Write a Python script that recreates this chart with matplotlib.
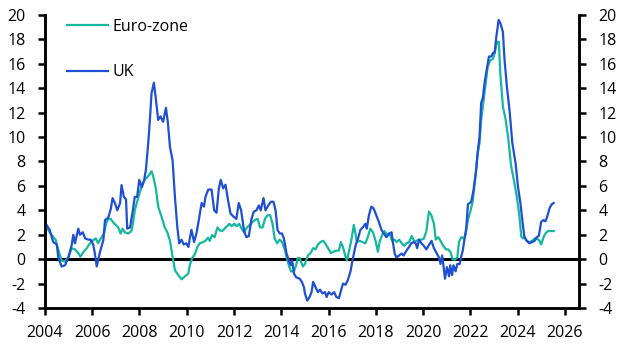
import matplotlib
matplotlib.use("Agg")
import matplotlib.pyplot as plt

plt.rcParams['font.family'] = ['Open Sans', 'DejaVu Sans']
plt.rcParams['axes.unicode_minus'] = False

# food inflation, % y/y
uk_dates = [2004.0, 2004.2, 2004.35, 2004.5, 2004.56, 2004.7, 2004.85, 2005.0, 2005.13, 2005.2,
            2005.27, 2005.41, 2005.48, 2005.6, 2005.7, 2005.83, 2005.93, 2006.04, 2006.1, 2006.19,
            2006.33, 2006.47, 2006.54, 2006.68, 2006.79, 2006.86, 2006.96, 2007.06, 2007.18, 2007.24,
            2007.34, 2007.43, 2007.48, 2007.6, 2007.71, 2007.8, 2007.9, 2007.99, 2008.1, 2008.2,
            2008.27, 2008.37, 2008.44, 2008.51, 2008.61, 2008.7, 2008.79, 2008.89, 2009.0, 2009.12,
            2009.2, 2009.29, 2009.4, 2009.5, 2009.6, 2009.68, 2009.78, 2009.87, 2009.98, 2010.07,
            2010.13, 2010.2, 2010.31, 2010.41, 2010.51, 2010.63, 2010.73, 2010.79, 2010.91, 2011.05,
            2011.16, 2011.26, 2011.36, 2011.44, 2011.54, 2011.64, 2011.75, 2011.85, 2011.97, 2012.1,
            2012.2, 2012.3, 2012.43, 2012.53, 2012.63, 2012.74, 2012.84, 2012.95, 2013.05, 2013.13,
            2013.25, 2013.33, 2013.45, 2013.56, 2013.67, 2013.76, 2013.84, 2013.94, 2014.03, 2014.11,
            2014.22, 2014.32, 2014.4, 2014.46, 2014.54, 2014.64, 2014.78, 2014.88, 2014.96, 2015.0,
            2015.1, 2015.2, 2015.28, 2015.35, 2015.45, 2015.55, 2015.64, 2015.74, 2015.85, 2015.92,
            2016.01, 2016.13, 2016.24, 2016.33, 2016.44, 2016.54, 2016.61, 2016.72, 2016.82, 2016.93,
            2017.03, 2017.15, 2017.25, 2017.35, 2017.45, 2017.56, 2017.62, 2017.71, 2017.81, 2017.91,
            2018.02, 2018.14, 2018.24, 2018.34, 2018.45, 2018.57, 2018.67, 2018.73, 2018.8, 2018.87,
            2018.99, 2019.09, 2019.18, 2019.3, 2019.41, 2019.5, 2019.6, 2019.69, 2019.75, 2019.83,
            2019.93, 2020.03, 2020.14, 2020.26, 2020.36, 2020.46, 2020.56, 2020.67, 2020.74, 2020.81,
            2020.87, 2020.93, 2021.01, 2021.1, 2021.15, 2021.23, 2021.29, 2021.38, 2021.45, 2021.55,
            2021.61, 2021.68, 2021.76, 2021.83, 2021.9, 2022.04, 2022.13, 2022.25, 2022.32, 2022.39,
            2022.46, 2022.53, 2022.6, 2022.7, 2022.79, 2022.89, 2022.96, 2023.03, 2023.1, 2023.2,
            2023.28, 2023.38, 2023.45, 2023.55, 2023.66, 2023.78, 2023.92, 2024.02, 2024.12, 2024.22,
            2024.29, 2024.39, 2024.5, 2024.62, 2024.72, 2024.81, 2024.9, 2025.0, 2025.1, 2025.18,
            2025.24, 2025.36, 2025.45, 2025.53]
uk_vals = [3.0, 2.4, 1.4, 1.2, 0.2, -0.6, -0.5, 0.2, 1.15, 2.0,
           1.3, 2.5, 2.0, 2.2, 1.7, 1.6, 1.6, 1.2, 0.6, -0.6,
           0.6, 1.56, 3.2, 3.4, 4.15, 5.0, 4.6, 4.0, 4.6, 6.07,
           5.1, 4.9, 2.5, 2.6, 3.9, 5.1, 5.1, 6.5, 5.9, 6.5,
           7.3, 9.5, 11.4, 13.6, 14.45, 13.0, 11.4, 11.7, 11.25, 12.4,
           11.2, 9.2, 8.1, 5.1, 2.65, 1.3, 1.6, 1.2, 1.3, 1.0,
           1.7, 2.4, 1.4, 2.1, 3.2, 4.6, 4.3, 5.1, 5.7, 5.7,
           4.0, 3.8, 5.8, 6.5, 5.8, 6.1, 4.8, 3.75, 3.5, 3.3,
           4.6, 4.0, 2.25, 1.8, 1.9, 3.3, 3.9, 4.0, 4.4, 4.0,
           5.0, 4.0, 4.4, 4.7, 4.7, 4.0, 2.4, 2.1, 2.1, 1.7,
           0.5, -0.1, -0.5, -0.1, -1.2, -1.5, -1.6, -1.9, -2.3, -2.8,
           -3.4, -3.1, -2.7, -1.86, -2.3, -2.7, -2.5, -2.8, -2.7, -3.1,
           -2.7, -2.9, -2.7, -3.1, -3.2, -2.5, -2.0, -2.1, -1.7, -1.0,
           0.05, 1.15, 1.7, 2.4, 2.6, 2.9, 2.5, 3.6, 4.3, 4.15,
           3.6, 3.0, 2.4, 2.1, 1.8, 2.1, 2.2, 1.3, 0.46, 0.15,
           0.3, 0.46, 0.3, 0.7, 1.0, 1.3, 1.4, 1.3, 0.9, 1.6,
           1.3, 1.1, 0.8, 1.2, 1.5, 0.9, 0.55, 0.15, -0.4, 0.3,
           -0.65, -1.6, -0.65, -1.4, -0.5, -1.3, -0.5, -1.0, -0.4, -0.4,
           0.15, 0.7, 1.7, 2.6, 4.5, 4.7, 5.6, 7.3, 8.9, 10.0,
           12.8, 13.2, 14.4, 15.6, 16.6, 16.6, 16.9, 16.9, 18.2, 19.6,
           19.3, 18.6, 16.3, 14.1, 12.2, 9.5, 7.8, 5.9, 4.6, 2.9,
           1.8, 1.5, 1.3, 1.4, 1.5, 1.8, 1.9, 3.06, 3.2, 3.1,
           3.4, 4.2, 4.5, 4.6]

ez_dates = [2004.0, 2004.2, 2004.35, 2004.45, 2004.56, 2004.7, 2004.85, 2005.0, 2005.13, 2005.27,
            2005.41, 2005.5, 2005.63, 2005.77, 2005.9, 2006.04, 2006.15, 2006.25, 2006.36, 2006.5,
            2006.6, 2006.68, 2006.78, 2006.89, 2007.0, 2007.1, 2007.2, 2007.28, 2007.38, 2007.52,
            2007.66, 2007.73, 2007.8, 2007.94, 2008.08, 2008.22, 2008.37, 2008.51, 2008.58, 2008.7,
            2008.79, 2008.93, 2009.07, 2009.18, 2009.29, 2009.4, 2009.5, 2009.64, 2009.78, 2009.93,
            2010.06, 2010.13, 2010.23, 2010.34, 2010.45, 2010.55, 2010.69, 2010.79, 2010.9, 2010.97,
            2011.07, 2011.18, 2011.3, 2011.4, 2011.5, 2011.6, 2011.71, 2011.8, 2011.9, 2012.01,
            2012.12, 2012.22, 2012.32, 2012.43, 2012.55, 2012.66, 2012.79, 2012.88, 2013.0, 2013.1,
            2013.21, 2013.31, 2013.42, 2013.53, 2013.63, 2013.72, 2013.83, 2013.93, 2014.03, 2014.14,
            2014.25, 2014.35, 2014.42, 2014.54, 2014.64, 2014.7, 2014.78, 2014.85, 2014.92, 2015.0,
            2015.13, 2015.24, 2015.35, 2015.45, 2015.55, 2015.66, 2015.77, 2015.86, 2015.98, 2016.1,
            2016.2, 2016.33, 2016.44, 2016.52, 2016.61, 2016.72, 2016.78, 2016.86, 2016.96, 2017.07,
            2017.15, 2017.2, 2017.32, 2017.43, 2017.56, 2017.66, 2017.77, 2017.88, 2017.99, 2018.09,
            2018.16, 2018.27, 2018.37, 2018.47, 2018.58, 2018.69, 2018.79, 2018.89, 2018.99, 2019.1,
            2019.2, 2019.3, 2019.41, 2019.52, 2019.62, 2019.72, 2019.83, 2019.95, 2020.04, 2020.14,
            2020.25, 2020.35, 2020.46, 2020.54, 2020.64, 2020.74, 2020.85, 2020.97, 2021.07, 2021.17,
            2021.25, 2021.35, 2021.45, 2021.52, 2021.62, 2021.72, 2021.8, 2021.9, 2022.0, 2022.1,
            2022.21, 2022.3, 2022.39, 2022.46, 2022.6, 2022.74, 2022.85, 2022.96, 2023.03, 2023.13,
            2023.21, 2023.27, 2023.38, 2023.5, 2023.6, 2023.73, 2023.87, 2023.97, 2024.08, 2024.16,
            2024.22, 2024.29, 2024.39, 2024.5, 2024.62, 2024.72, 2024.81, 2024.93, 2025.0, 2025.1,
            2025.18, 2025.28, 2025.42, 2025.53]
ez_vals = [2.8, 2.2, 1.8, 1.6, 0.8, -0.1, -0.2, 0.2, 0.9, 0.8,
           0.5, 0.2, 0.6, 0.9, 1.3, 1.56, 1.7, 1.3, 1.7, 2.1,
           3.0, 3.3, 3.3, 3.0, 2.8, 2.6, 2.1, 2.5, 2.2, 2.1,
           2.3, 3.0, 4.0, 5.0, 5.9, 6.5, 6.8, 7.2, 6.8, 5.7,
           4.3, 3.5, 2.6, 2.2, 1.5, 0.2, -0.9, -1.3, -1.65, -1.4,
           -1.2, -0.5, 0.1, 0.4, 1.0, 1.3, 1.4, 1.5, 1.75, 1.5,
           1.97, 1.8, 2.6, 2.35, 2.3, 2.5, 2.7, 2.9, 2.7, 2.9,
           2.7, 2.9, 2.5, 2.2, 2.6, 2.8, 3.05, 3.2, 3.3, 2.6,
           2.6, 3.3, 3.6, 3.6, 2.9, 1.7, 1.3, 1.6, 1.4, 0.86,
           0.0, -0.7, -1.0, -1.0, -0.4, 0.1, 0.1, -0.3, -0.6, -0.4,
           0.3, 0.5, 0.9, 0.8, 1.2, 1.4, 1.5, 1.3, 0.9, 0.5,
           0.6, 0.7, 0.7, 1.4, 1.0, 0.2, -0.1, 0.6, 1.5, 2.8,
           1.97, 1.4, 1.5, 1.4, 1.3, 1.8, 2.5, 2.2, 1.5, 0.6,
           1.4, 2.0, 2.3, 2.0, 2.1, 1.5, 1.6, 1.4, 1.6, 1.3,
           1.1, 1.3, 1.4, 1.9, 1.5, 1.5, 1.6, 1.6, 1.7, 2.3,
           3.9, 3.6, 2.9, 1.6, 1.8, 1.5, 1.1, 0.8, 0.8, 0.55,
           0.0, -0.05, 0.15, 1.4, 1.8, 1.7, 2.0, 3.2, 3.9, 4.7,
           6.6, 8.5, 9.5, 11.4, 13.6, 15.8, 16.3, 16.4, 16.9, 17.8,
           17.8, 15.2, 12.5, 11.4, 10.0, 7.6, 6.2, 5.1, 3.5, 1.83,
           1.7, 1.83, 1.5, 1.4, 1.5, 1.7, 1.7, 1.5, 1.2, 1.8,
           2.1, 2.3, 2.3, 2.3]

yticks = list(range(-4, 21, 2))
xticks = list(range(2004, 2027, 2))

fig = plt.figure(figsize=(6.29, 3.54), dpi=100)
ax = fig.add_axes([0.0715, 0.130, 0.849, 0.8276])

ax.plot(ez_dates, ez_vals, color='#14B8A0', lw=1.6, label='Euro-zone', zorder=3)
ax.plot(uk_dates, uk_vals, color='#1F4FD3', lw=1.6, label='UK', zorder=4)
ax.axhline(0, color='black', lw=2.2, zorder=2)

ax.set_xlim(2004, 2026.6)
ax.set_ylim(-4, 20)
ax.set_xticks(xticks)
ax.set_yticks(yticks)

ax2 = ax.twinx()
ax2.set_ylim(-4, 20)
ax2.set_yticks(yticks)

for a in (ax, ax2):
    a.spines['top'].set_visible(False)
    for s in ('left', 'right', 'bottom'):
        a.spines[s].set_linewidth(1.8)
    a.tick_params(axis='both', direction='out', length=5, width=1.8,
                  labelsize=11.5, pad=9)
ax.tick_params(axis='x', pad=7)

ax.legend(loc='upper left', bbox_to_anchor=(0.106, 0.947), bbox_transform=fig.transFigure,
          frameon=False, fontsize=11.5, handlelength=2.6, handletextpad=0.3,
          labelspacing=1.85, borderpad=0, borderaxespad=0)

fig.savefig('out.png', dpi=100)
